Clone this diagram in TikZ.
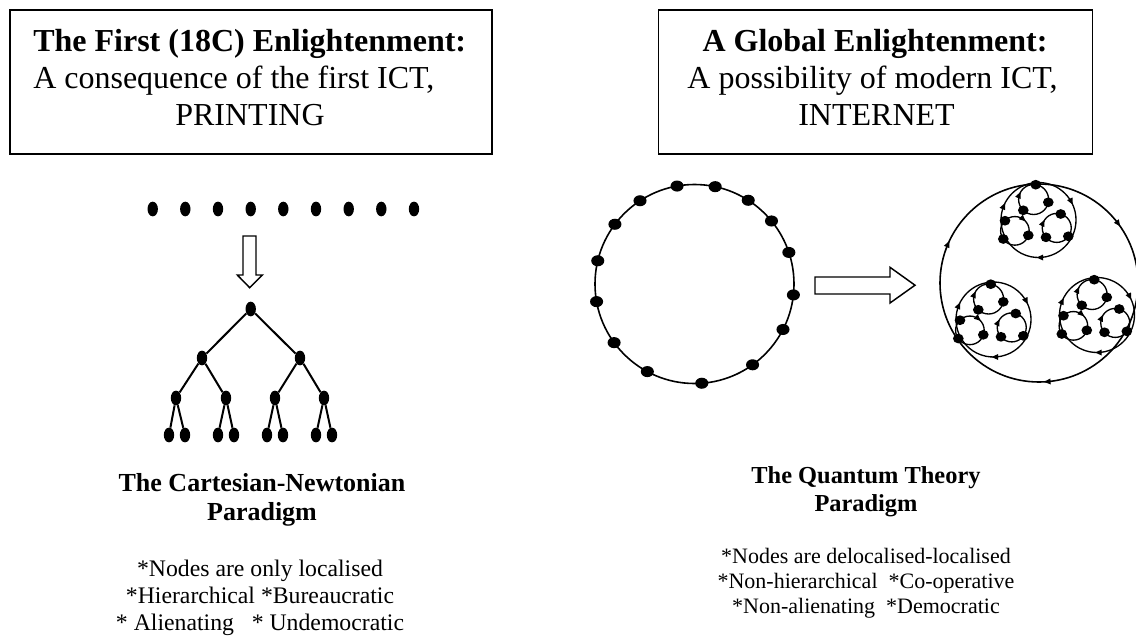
\documentclass[tikz,border=0pt]{standalone}
\usepackage{fontspec}
\setmainfont{Liberation Serif}
\usetikzlibrary{shapes.geometric,arrows.meta}

% clockwise arrow tip on a circle: centre (#1,#2), radius #3, visual angle #4
\newcommand{\cwtip}[4]{%
  \draw[tipline] ({#1+#3*cos(#4)-2*sin(#4)},{#2-#3*sin(#4)-2*cos(#4)}) --
                 ({#1+#3*cos(#4)+2*sin(#4)},{#2-#3*sin(#4)+2*cos(#4)});}

\newcommand{\qcluster}[3]{%
\begin{scope}[shift={(#1,#2)}]
  \draw[thinline] (0,0) circle[radius=37.5];
  \draw[thinline] (-4.9,-20.5) circle[radius=15];
  \draw[thinline] (-23.6,10.85) circle[radius=14.3];
  \draw[thinline] (18.25,7.9) circle[radius=14.5];
  \cwtip{0}{0}{37.5}{156}
  \cwtip{0}{0}{37.5}{27}
  \cwtip{0}{0}{37.5}{-90}
  \cwtip{-4.9}{-20.5}{15}{157}
  \cwtip{-23.6}{10.85}{14.3}{49}
  \cwtip{18.25}{7.9}{14.5}{154}
  \foreach \n/\px/\py in {T/-2.8/-35.3, B/-15.2/-9.7, C/9.8/-17.7, P/-33.5/0.7, Q/-35.2/19, R/-10.2/15.3, U/22.2/-6, V/7.5/17.3, W/29.8/16.3}
    \node[fdot] (#3\n) at (\px,\py) {};
\end{scope}}

\begin{document}
\begin{tikzpicture}[x=0.75pt,y=-0.75pt,
  dotv/.style={ellipse, fill=black, inner sep=0pt, minimum width=7.8pt, minimum height=11pt},
  doth/.style={ellipse, fill=black, inner sep=0pt, minimum width=9.8pt, minimum height=8.3pt},
  fdot/.style={ellipse, fill=black, inner sep=0pt, minimum width=8pt, minimum height=7.3pt},
  treeline/.style={line width=1.5pt},
  thinline/.style={line width=1pt},
  medline/.style={line width=1.2pt},
  tipline/.style={line width=1pt, -{Triangle[length=5pt,width=4.2pt]}},
  frame/.style={draw, line width=1.1pt, inner sep=0pt},
  hollow/.style={draw, line width=1.1pt, fill=white},
  boxtxt/.style={inner sep=0pt, font=\fontsize{24}{28}\selectfont},
  ltitle/.style={anchor=base, inner sep=0pt, font=\fontsize{19.5}{23}\selectfont\bfseries},
  ldesc/.style={anchor=base, inner sep=0pt, font=\fontsize{17.8}{21}\selectfont},
  rtitle/.style={anchor=base, inner sep=0pt, font=\fontsize{18.3}{22}\selectfont\bfseries},
  rdesc/.style={anchor=base, inner sep=0pt, font=\fontsize{16.5}{20}\selectfont}
]
\useasboundingbox (0,0) rectangle (1136,636);
\fill[white] (0,0) rectangle (1136,636);
\clip (0,0) rectangle (1136,636);

% ---------- top boxes ----------
\node[frame, minimum width=361.5pt, minimum height=108pt] (boxL) at (251,82) {};
\node[boxtxt, anchor=base west, font=\fontsize{24}{28}\selectfont\bfseries] (L1) at (33,51.7) {The First (18C) Enlightenment:};
\node[boxtxt, anchor=base west] (L2) at (33,88) {A consequence of the first ICT,};
\node[boxtxt, anchor=base] (L3) at (250,125) {PRINTING};

\node[frame, minimum width=325.5pt, minimum height=108pt] (boxR) at (875.5,82) {};
\node[boxtxt, anchor=base, font=\fontsize{24}{28}\selectfont\bfseries] (R1) at (875,51.7) {A Global Enlightenment:};
\node[boxtxt, anchor=base] (R2) at (872.5,88.3) {A possibility of modern ICT,};
\node[boxtxt, anchor=base] (R3) at (876.5,125) {INTERNET};

% ---------- left: row of dots ----------
\foreach \x [count=\i] in {152.7,185.3,218,250.7,283.3,316,348.7,381.3,414}
  \node[dotv] (row\i) at (\x,209) {};

% hollow down arrow
\draw[hollow] (243,236) -- (256,236) -- (256,275) -- (262.3,275) -- (249.7,287.7) -- (237.3,275) -- (243,275) -- cycle;

% ---------- tree ----------
\node[dotv] (t0) at (250.7,309) {};
\node[dotv] (t1) at (202,358) {};
\node[dotv] (t2) at (300,358) {};
\node[dotv] (t11) at (176,398) {};
\node[dotv] (t12) at (226,398) {};
\node[dotv] (t21) at (275,398) {};
\node[dotv] (t22) at (324,398) {};
\node[dotv] (a1) at (169,435) {};
\node[dotv] (a2) at (185,435) {};
\node[dotv] (a3) at (218,435) {};
\node[dotv] (a4) at (234,435) {};
\node[dotv] (a5) at (267,435) {};
\node[dotv] (a6) at (283,435) {};
\node[dotv] (a7) at (316,435) {};
\node[dotv] (a8) at (332,435) {};
\draw[treeline] (t0) -- (t1);
\draw[treeline] (t0) -- (t2);
\draw[treeline] (t1) -- (t11);
\draw[treeline] (t1) -- (t12);
\draw[treeline] (t2) -- (t21);
\draw[treeline] (t2) -- (t22);
\draw[treeline] (t11) -- (a1);
\draw[treeline] (t11) -- (a2);
\draw[treeline] (t12) -- (a3);
\draw[treeline] (t12) -- (a4);
\draw[treeline] (t21) -- (a5);
\draw[treeline] (t21) -- (a6);
\draw[treeline] (t22) -- (a7);
\draw[treeline] (t22) -- (a8);

% ---------- left texts ----------
\node[ltitle] (lt1) at (262,491.7) {The Cartesian-Newtonian};
\node[ltitle] (lt2) at (262,520) {Paradigm};
\node[ldesc] (ld1) at (260,576) {*Nodes are only localised};
\node[ldesc] (ld2) at (260,603.5) {*Hierarchical *Bureaucratic};
\node[ldesc] (ld3) at (260,630) {* Alienating\ \ \ * Undemocratic};

% ---------- ring ----------
\draw[medline] (694.5,284) circle[radius=99.5];
\foreach \a [count=\i] in {100.1,78,123.2,57.3,143.1,39.3,166.5,18.5,190.2,-6.3,216.1,-27.2,241.7,-54.3,-85.8}
  \node[doth] (ring\i) at ({694.5+99.5*cos(\a)},{284-99.5*sin(\a)}) {};

% hollow right arrow
\draw[hollow] (815,277) -- (890,277) -- (890,267.3) -- (915,285.2) -- (890,303) -- (890,294) -- (815,294) -- cycle;

% ---------- fractal network ----------
\draw[medline] (1039,283) circle[radius=99];
\cwtip{1039}{283}{99}{156}
\cwtip{1039}{283}{99}{36}
\cwtip{1039}{283}{99}{-86}
\qcluster{1038.5}{220}{qa}
\qcluster{993.5}{319.5}{qb}
\qcluster{1097}{315}{qc}

% ---------- right texts ----------
\node[rtitle] (rt1) at (866,483.3) {The Quantum Theory};
\node[rtitle] (rt2) at (866,511.7) {Paradigm};
\node[rdesc] (rd1) at (866,563.3) {*Nodes are delocalised-localised};
\node[rdesc] (rd2) at (866,588.3) {*Non-hierarchical\ \ *Co-operative};
\node[rdesc] (rd3) at (866,613.3) {*Non-alienating\ \ *Democratic};
\end{tikzpicture}
\end{document}
